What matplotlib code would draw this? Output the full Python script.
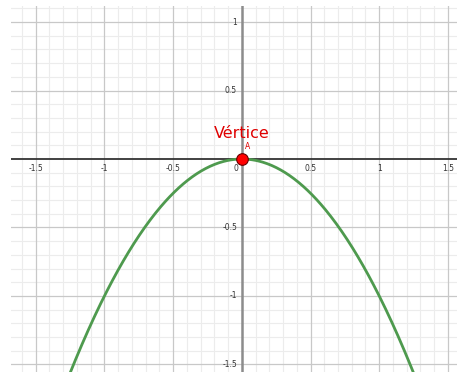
import numpy as np
import matplotlib.pyplot as plt

# parabola y = -x^2, vertex at origin
x_vals = np.linspace(-1.3, 1.3, 400)
y_vals = -x_vals**2
vertex_x = [0.0]
vertex_y = [0.0]
x_ticks = [-1.5, -1, -0.5, 0, 0.5, 1, 1.5]
x_labels = ['-1.5', '-1', '-0.5', '0', '0.5', '1', '1.5']
y_ticks = [-1.5, -1, -0.5, 0.5, 1]
y_labels = ['-1.5', '-1', '-0.5', '0.5', '1']

fig = plt.figure(figsize=(4.57, 3.72), dpi=100)
ax = fig.add_axes([11/457, 0, 446/457, 366/372])
ax.set_xlim(-1.68, 1.566)
ax.set_ylim(-1.555, 1.117)

# minor grid
for v in np.arange(-1.7, 1.61, 0.1):
    if abs(round(v*2) - v*2) > 1e-6:
        ax.axvline(v, color='#ececec', lw=0.8, zorder=0)
        ax.axhline(v, color='#ececec', lw=0.8, zorder=0)
# major grid
for v in [-1.5, -1, -0.5, 0.5, 1, 1.5]:
    ax.axvline(v, color='#c8c8c8', lw=0.9, zorder=0)
    ax.axhline(v, color='#c8c8c8', lw=0.9, zorder=0)

ax.axhline(0, color='#333333', lw=1.3, zorder=1)
ax.axvline(0, color='#8c8c8c', lw=1.8, zorder=1)

ax.plot(x_vals, y_vals, color='#4e9a4e', lw=2, zorder=2)
ax.scatter(vertex_x, vertex_y, s=70, color='#ff0000', edgecolor='#660000', lw=0.8, zorder=3)
ax.text(0.04, 0.06, 'A', color='#e00000', fontsize=5.5, ha='center', va='bottom')
ax.text(0.0, 0.13, 'Vértice', color='#e00000', fontsize=11.5, ha='center', va='bottom')

for t, lab in zip(x_ticks, x_labels):
    xp = t - 0.04 if t == 0 else t
    ax.text(xp, -0.07, lab, fontsize=5.5, color='#333333', ha='center', va='center')
for t, lab in zip(y_ticks, y_labels):
    ax.text(-0.035, t, lab, fontsize=5.5, color='#333333', ha='right', va='center')

ax.set_xticks([])
ax.set_yticks([])
for s in ax.spines.values():
    s.set_visible(False)

plt.savefig('out.png', dpi=100)
